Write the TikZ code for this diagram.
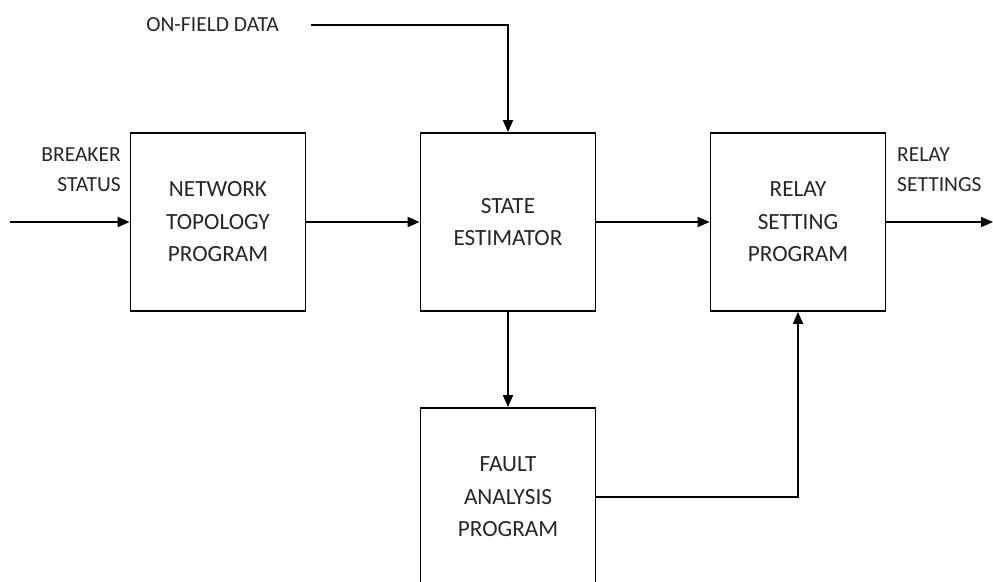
\documentclass[tikz,border=0pt]{standalone}
\usepackage{fontspec}
\setmainfont{Carlito}
\usetikzlibrary{arrows.meta}
\begin{document}
\begin{tikzpicture}[x=1pt,y=-1pt,
  block/.style={draw=black,line width=1.8pt,minimum width=175pt,minimum height=178pt,
    align=center,text=black!85,inner sep=0pt,font=\fontsize{23.2}{32.5}\selectfont},
  lbl/.style={text=black!85,inner sep=0pt,font=\fontsize{21.5}{29.5}\selectfont},
  link/.style={line width=1.8pt,-{Triangle[length=12pt,width=10pt]}},
]
\useasboundingbox (0,0) rectangle (993,581);
\clip (0,0) rectangle (993,581);

% processing blocks
\node[block] (ntp) at (218,222) {NETWORK\\TOPOLOGY\\PROGRAM};
\node[block] (se)  at (508,222) {STATE\\ESTIMATOR};
\node[block] (rsp) at (798,222) {RELAY\\SETTING\\PROGRAM};
\node[block] (fap) at (508,497) {FAULT\\ANALYSIS\\PROGRAM};

% external signals
\node[lbl,anchor=east] (ofd) at (279,25) {ON-FIELD DATA};
\node[lbl,align=right,anchor=north east] (brk) at (121,148) {BREAKER\\STATUS};
\node[lbl,align=left,anchor=north west] (rly) at (897,148) {RELAY\\SETTINGS};

\coordinate (bin)  at (10,222);
\coordinate (rout) at (993,222);
\coordinate (ofs)  at (311,25);

% signal flow
\draw[link] (bin) -- (ntp.west);
\draw[link] (ntp) -- (se);
\draw[link] (se) -- (rsp);
\draw[link] (rsp.east) -- (rout);
\draw[link] (ofs) -| (se.north);
\draw[link] (se) -- (fap);
\draw[link] (fap.east) -| (rsp.south);
\end{tikzpicture}
\end{document}
